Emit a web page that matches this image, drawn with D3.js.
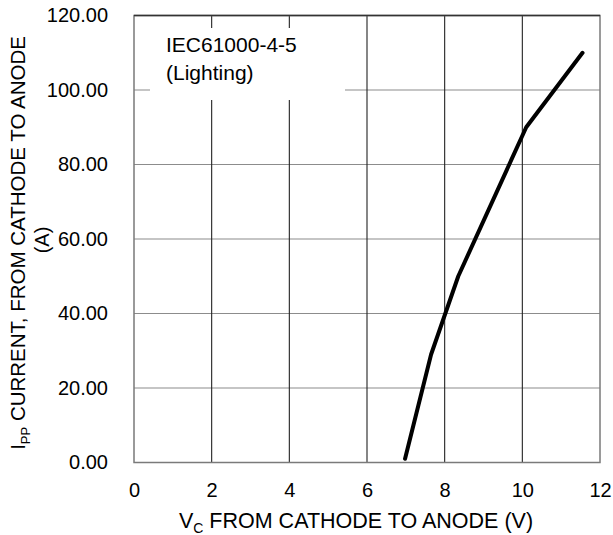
<!DOCTYPE html>
<html>
<head>
<meta charset="utf-8">
<script src="https://cdnjs.cloudflare.com/ajax/libs/d3/7.8.5/d3.min.js"></script>
<style>
body { margin: 0; background: #fff; }
text { font-family: "Liberation Sans", Arial, sans-serif; fill: #000; }
</style>
</head>
<body>
<script>
// curve: Vc (V), Ipp (A)
const vc = [6.98, 7.65, 8.35, 10.1, 11.55];
const ipp = [1, 29, 50, 90, 110];
const xTicks = [0, 2, 4, 6, 8, 10, 12];
const yTicks = [0, 20, 40, 60, 80, 100, 120];

const W = 613, H = 535;
const m = { left: 134, right: 13, top: 15.5, bottom: 72.5 };
const FONT = "Liberation Sans, Arial, sans-serif";

const svg = d3.select("body").append("svg").attr("width", W).attr("height", H);

const x = d3.scaleLinear().domain([0, 12]).range([m.left, W - m.right]);
const y = d3.scaleLinear().domain([0, 120]).range([H - m.bottom, m.top]);

// horizontal grid (grey)
svg.append("g").selectAll("line").data(yTicks.slice(1, -1)).join("line")
  .attr("x1", x(0)).attr("x2", x(12))
  .attr("y1", d => y(d)).attr("y2", d => y(d))
  .attr("stroke", "#8c8c8c").attr("stroke-width", 1.2);

// vertical grid (dark)
svg.append("g").selectAll("line").data(xTicks.slice(1, -1)).join("line")
  .attr("x1", d => x(d)).attr("x2", d => x(d))
  .attr("y1", y(0)).attr("y2", y(120))
  .attr("stroke", "#222").attr("stroke-width", 1.1);

// white box behind annotation
svg.append("rect")
  .attr("x", 150).attr("y", 28).attr("width", 195).attr("height", 72)
  .attr("fill", "#fff");

// frame
svg.append("rect")
  .attr("x", x(0)).attr("y", y(120))
  .attr("width", x(12) - x(0)).attr("height", y(0) - y(120))
  .attr("fill", "none").attr("stroke", "#7a7a7a").attr("stroke-width", 1.5);
svg.append("line").attr("x1", x(0)).attr("x2", x(12)).attr("y1", y(120)).attr("y2", y(120))
  .attr("stroke", "#333").attr("stroke-width", 1.3);

// tick labels
const xAxis = d3.axisBottom(x).tickValues(xTicks).tickSize(0).tickPadding(20);
svg.append("g").attr("transform", `translate(0,${y(0)})`).call(xAxis)
  .call(g => g.select(".domain").remove())
  .selectAll("text").style("font-size", "20px").style("font-family", FONT);

const yAxis = d3.axisLeft(y).tickValues(yTicks).tickFormat(d3.format(".2f")).tickSize(0).tickPadding(26);
svg.append("g").attr("transform", `translate(${x(0)},0)`).call(yAxis)
  .call(g => g.select(".domain").remove())
  .selectAll("text").style("font-size", "20px").style("font-family", FONT);

// curve
const line = d3.line().x(d => x(d[0])).y(d => y(d[1]));
svg.append("path")
  .datum(vc.map((v, i) => [v, ipp[i]]))
  .attr("d", line)
  .attr("fill", "none").attr("stroke", "#000").attr("stroke-width", 4)
  .attr("stroke-linecap", "round").attr("stroke-linejoin", "round");

// annotation
const ann = svg.append("text").attr("x", 166).attr("y", 52).style("font-size", "21px");
ann.append("tspan").text("IEC61000-4-5");
ann.append("tspan").attr("x", 166).attr("dy", 28).text("(Lighting)");

// x title
const xt = svg.append("text").attr("x", 356).attr("y", 528).attr("text-anchor", "middle").style("font-size", "21.5px");
xt.append("tspan").text("V");
xt.append("tspan").attr("dy", 5).style("font-size", "14px").text("C");
xt.append("tspan").attr("dy", -5).text(" FROM CATHODE TO ANODE (V)");

// y title
const yt = svg.append("text").attr("transform", "translate(25,243) rotate(-90)")
  .attr("text-anchor", "middle").style("font-size", "20.5px");
yt.append("tspan").text("I");
yt.append("tspan").attr("dy", 5).style("font-size", "13px").text("PP");
yt.append("tspan").attr("dy", -5).text(" CURRENT, FROM CATHODE TO ANODE");
svg.append("text").attr("transform", "translate(49,240) rotate(-90)")
  .attr("text-anchor", "middle").style("font-size", "20px").text("(A)");
</script>
</body>
</html>
